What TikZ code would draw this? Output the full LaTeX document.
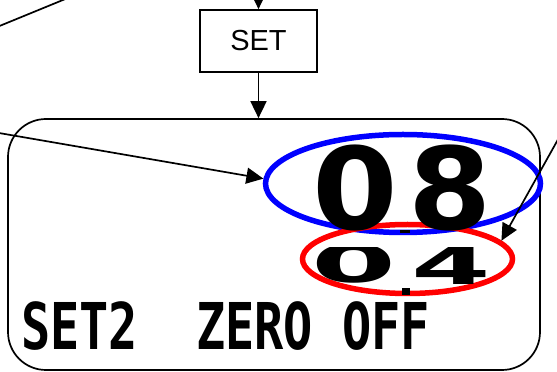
\documentclass[tikz,border=0pt]{standalone}
\usepackage{fontspec}
\setmainfont{Liberation Sans}
\newfontfamily\lcdfont{DejaVu Sans}
\newfontfamily\lcdmono{DejaVu Sans Mono}
\usetikzlibrary{arrows.meta,shapes.geometric}
\tikzset{
  wire/.style={line width=1.7pt},
  ring/.style={ellipse,draw,line width=5.5pt,inner sep=0pt},
  bigdigit/.style={inner sep=0pt,font=\lcdfont\bfseries\fontsize{114}{114}\selectfont},
  lowdigit/.style={inner sep=0pt,anchor=base,font=\lcdfont\bfseries\fontsize{52}{52}\selectfont}
}

\begin{document}
\begin{tikzpicture}[x=1pt,y=1pt,>={Triangle[length=17pt,width=16pt]},line cap=round]
\useasboundingbox (0,0) rectangle (557,372);
\node[draw,wire,minimum width=117pt,minimum height=62pt,inner sep=0pt,font=\fontsize{29}{29}\selectfont] (set) at (258.5,331) {SET};
\node[draw,wire,rounded corners=38pt,minimum width=532pt,minimum height=251pt] (lcd) at (274,127.5) {};
\node[ring,blue,minimum width=275pt,minimum height=98pt] (big) at (403,188.5) {};
\node[ring,red,minimum width=210pt,minimum height=69pt] (small) at (407.5,113) {};
\node[bigdigit,xscale=1.08] (zero) at (355,183.5) {0};
\node[bigdigit,xscale=1.05] (eight) at (450,183.5) {8};
\fill (400,139) rectangle (410,142);
\begin{scope}
\clip (290,60) rectangle (530,124);
\node[lowdigit,xscale=2.35] (lowzero) at (354,89) {0};
\node[lowdigit,xscale=2.2] (four) at (451,87) {4};
\fill (402,77) rectangle (410,84);
\end{scope}
\node[anchor=base west,inner sep=0pt,yscale=1.33,font=\lcdmono\bfseries\fontsize{48.5}{48.5}\selectfont] (menu) at (21,22) {SET2\ \ ZERO OFF};
\coordinate (feed) at (258.5,390);
\coordinate (lft) at (-30,244);
\coordinate (rgt) at (575,263);
\coordinate (tla) at (-20,338);
\coordinate (tlb) at (80,379);
\draw[wire,->] (feed) -- (set.north);
\draw[wire,->] (set.south) -- (set.south |- lcd.north);
\draw[wire,->] (lft) -- (big.178);
\draw[wire,->] (rgt) -- (small.11);
\draw[wire] (tla) -- (tlb);
\end{tikzpicture}
\end{document}
